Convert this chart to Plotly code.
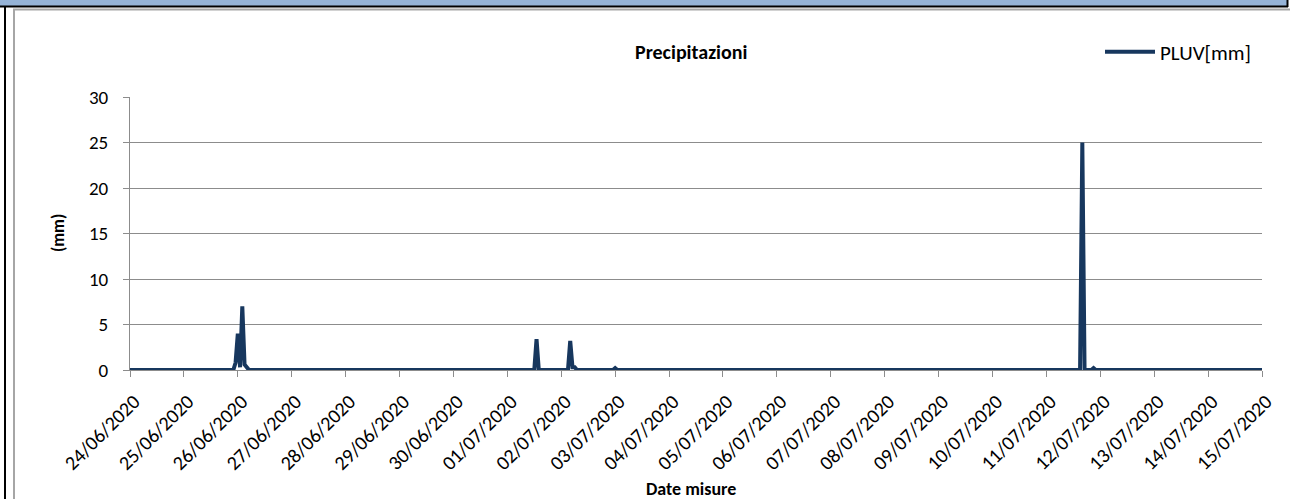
import plotly.graph_objects as go
import pandas as pd

# ---- data ----
start = "2020-06-24 00:00"
end = "2020-07-15 00:00"
# hourly rainfall readings; all hours not listed read as 0 mm
event_times = [
    "2020-06-25 23:00", "2020-06-26 00:00", "2020-06-26 01:00", "2020-06-26 02:00",
    "2020-06-26 03:00", "2020-06-26 04:00",
    "2020-07-01 13:00",
    "2020-07-02 04:00", "2020-07-02 05:00", "2020-07-02 06:00",
    "2020-07-03 00:00",
    "2020-07-11 16:00", "2020-07-11 21:00",
]
event_values = [0.8, 4.0, 0.3, 7.0, 0.6, 0.2,
                3.4,
                3.2, 0.3, 0.3,
                0.2,
                25.0, 0.2]
series_name = "PLUV[mm]"
chart_title = "Precipitazioni"
x_title = "Date misure"
y_title = "(mm)"
y_ticks = [0, 5, 10, 15, 20, 25, 30]

times = pd.date_range(start, end, freq="h")
vals = pd.Series(0.0, index=times)
for t, v in zip(event_times, event_values):
    vals[pd.Timestamp(t)] = v

W, H = 1290, 499
L, R, T, B = 130, 1262, 97, 370


def px(x):
    return (x - L) / (R - L)


def py(y):
    return (B - y) / (B - T)


FONT = "Carlito, Calibri, 'Liberation Sans', sans-serif"
GRID = "#8c8c8c"
NAVY = "#17375E"

fig = go.Figure()
fig.add_trace(go.Scatter(
    x=vals.index, y=vals.values, mode="lines", name=series_name,
    line=dict(color=NAVY, width=4), showlegend=True,
))

shapes = [
    dict(type="rect", xref="paper", yref="paper", x0=px(0), x1=px(1287), y0=py(0), y1=py(6),
         fillcolor="#95B3D7", line=dict(width=0), layer="above"),
    dict(type="line", xref="paper", yref="paper", x0=px(0), x1=px(1288), y0=py(6.5), y1=py(6.5),
         line=dict(color="black", width=2)),
    dict(type="line", xref="paper", yref="paper", x0=px(1287.5), x1=px(1287.5), y0=py(0), y1=py(7),
         line=dict(color="black", width=2)),
    dict(type="line", xref="paper", yref="paper", x0=px(5), x1=px(5), y0=py(6), y1=py(499),
         line=dict(color="black", width=2)),
    dict(type="line", xref="paper", yref="paper", x0=px(14), x1=px(14), y0=py(9), y1=py(499),
         line=dict(color="#a6a6a6", width=2)),
    dict(type="line", xref="paper", yref="paper", x0=px(13), x1=px(1290), y0=py(9.5), y1=py(9.5),
         line=dict(color="#a6a6a6", width=2)),
]

annotations = [
    dict(text="<b>" + chart_title + "</b>", xref="paper", yref="paper", x=px(691), y=py(52),
         showarrow=False, font=dict(family=FONT, size=20, color="black"),
         xanchor="center", yanchor="middle"),
    dict(text="<b>" + y_title + "</b>", xref="paper", yref="paper", x=px(58), y=py(233),
         showarrow=False, textangle=-90, font=dict(family=FONT, size=17, color="black"),
         xanchor="center", yanchor="middle"),
    dict(text="<b>" + x_title + "</b>", xref="paper", yref="paper", x=px(691), y=py(489),
         showarrow=False, font=dict(family=FONT, size=18, color="black"),
         xanchor="center", yanchor="middle"),
]

fig.update_layout(
    width=W, height=H,
    margin=dict(l=L, r=W - R, t=T, b=H - B, pad=0),
    paper_bgcolor="white", plot_bgcolor="white",
    font=dict(family=FONT, size=18, color="black"),
    shapes=shapes, annotations=annotations,
    showlegend=True,
    legend=dict(x=px(1100), y=py(52), xanchor="left", yanchor="middle",
                bgcolor="rgba(0,0,0,0)", font=dict(family=FONT, size=21),
                itemwidth=50, tracegroupgap=0),
    xaxis=dict(
        type="date", range=[start, end], dtick=86400000, tick0=start,
        tickformat="%d/%m/%Y", tickangle=-45, ticks="outside", ticklen=6,
        tickcolor=GRID, showgrid=False, showline=True, linecolor=GRID, linewidth=1,
        tickfont=dict(family=FONT, size=20), zeroline=False,
        ticklabelstandoff=5, ticklabelshift=4,
    ),
    yaxis=dict(
        range=[0, 30], tickvals=y_ticks, ticks="outside", ticklen=6, tickcolor=GRID,
        showgrid=True, gridcolor=GRID, gridwidth=1, showline=True, linecolor=GRID,
        linewidth=1, tickfont=dict(family=FONT, size=19), zeroline=False,
        ticklabelstandoff=11,
    ),
)

fig.write_html("out.html", config={"displayModeBar": False},
               post_script="document.body.style.margin='0';document.body.style.overflow='hidden';")
